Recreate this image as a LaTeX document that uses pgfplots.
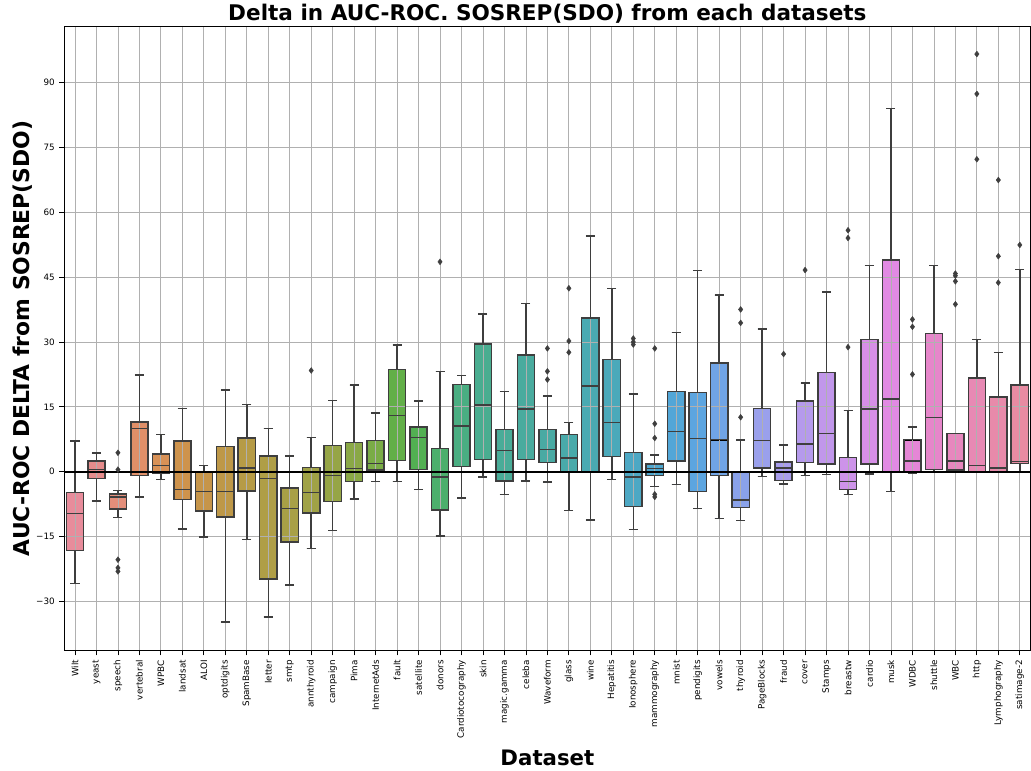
\documentclass[border=0pt]{standalone}
\usepackage{fontspec}
\setmainfont{DejaVu Sans}
\usepackage{pgfplots}
\usepackage{pgfplotstable}
\pgfplotsset{compat=1.18}
\usepgfplotslibrary{statistics}

\definecolor{edge}{RGB}{62,62,62}
\definecolor{gridc}{RGB}{176,176,176}
\definecolor{c0}{RGB}{232,140,155}
\definecolor{c1}{RGB}{230,140,140}
\definecolor{c2}{RGB}{228,142,122}
\definecolor{c3}{RGB}{224,143,104}
\definecolor{c4}{RGB}{216,145,86}
\definecolor{c5}{RGB}{206,147,76}
\definecolor{c6}{RGB}{198,149,74}
\definecolor{c7}{RGB}{190,152,72}
\definecolor{c8}{RGB}{182,155,70}
\definecolor{c9}{RGB}{175,158,70}
\definecolor{c10}{RGB}{168,160,70}
\definecolor{c11}{RGB}{160,162,70}
\definecolor{c12}{RGB}{150,165,70}
\definecolor{c13}{RGB}{138,168,70}
\definecolor{c14}{RGB}{122,172,70}
\definecolor{c15}{RGB}{98,175,72}
\definecolor{c16}{RGB}{82,176,82}
\definecolor{c17}{RGB}{76,175,108}
\definecolor{c18}{RGB}{74,174,130}
\definecolor{c19}{RGB}{73,173,144}
\definecolor{c20}{RGB}{73,172,152}
\definecolor{c21}{RGB}{73,171,158}
\definecolor{c22}{RGB}{73,170,163}
\definecolor{c23}{RGB}{73,170,170}
\definecolor{c24}{RGB}{74,170,178}
\definecolor{c25}{RGB}{75,169,186}
\definecolor{c26}{RGB}{77,168,196}
\definecolor{c27}{RGB}{79,167,206}
\definecolor{c28}{RGB}{82,166,215}
\definecolor{c29}{RGB}{92,165,224}
\definecolor{c30}{RGB}{112,164,230}
\definecolor{c31}{RGB}{138,162,234}
\definecolor{c32}{RGB}{154,160,236}
\definecolor{c33}{RGB}{168,157,236}
\definecolor{c34}{RGB}{181,154,236}
\definecolor{c35}{RGB}{193,151,235}
\definecolor{c36}{RGB}{205,147,233}
\definecolor{c37}{RGB}{215,143,231}
\definecolor{c38}{RGB}{225,138,227}
\definecolor{c39}{RGB}{229,134,214}
\definecolor{c40}{RGB}{230,134,202}
\definecolor{c41}{RGB}{231,135,190}
\definecolor{c42}{RGB}{232,137,180}
\definecolor{c43}{RGB}{232,138,170}
\definecolor{c44}{RGB}{232,139,162}

% lower whisker, lower quartile, median, upper quartile, upper whisker
\pgfplotstableread{
pos lw lq med uq uw
0 -25.8 -18.2 -9.6 -4.8 7.1
1 -6.7 -1.6 0.5 2.5 4.3
2 -10.5 -8.6 -5.8 -5.1 -4.3
3 -5.8 -0.85 10.0 11.5 22.4
4 -1.8 -0.3 1.4 4.1 8.6
5 -13.2 -6.4 -4.1 7.15 14.6
6 -15.1 -9.1 -4.5 -0.2 1.4
7 -34.7 -10.4 -4.5 5.8 18.9
8 -15.6 -4.4 0.85 7.8 15.6
9 -33.5 -24.8 -1.5 3.6 10.0
10 -26.2 -16.2 -8.5 -3.7 3.7
11 -17.7 -9.5 -4.8 1.0 7.9
12 -13.6 -6.8 -0.85 6.1 16.5
13 -6.3 -2.3 0.8 6.8 20.0
14 -2.3 0.4 1.9 7.2 13.6
15 -2.2 2.6 13.0 23.6 29.3
16 -4.1 0.5 7.9 10.4 16.4
17 -14.8 -8.8 -1.2 5.4 23.2
18 -6.0 1.2 10.6 20.2 22.3
19 -1.2 2.8 15.4 29.5 36.4
20 -5.3 -2.1 4.9 9.8 18.5
21 -2.1 2.8 14.5 27.0 38.9
22 -2.4 2.2 5.2 9.8 17.5
23 -8.9 -0.2 3.2 8.6 11.4
24 -11.1 -0.2 19.8 35.5 54.5
25 -1.8 3.5 11.4 26.0 42.4
26 -13.3 -8.0 -1.2 4.5 18.0
27 -3.4 -0.8 0.8 1.8 3.9
28 -2.9 2.5 9.3 18.5 32.2
29 -8.5 -4.6 7.7 18.3 46.5
30 -10.8 -0.8 7.4 25.1 40.8
31 -11.2 -8.3 -6.5 -0.2 7.3
32 -1.1 0.85 7.2 14.6 33.0
33 -2.8 -2.0 0.9 2.3 6.2
34 -0.9 2.2 6.4 16.4 20.5
35 -0.6 1.8 8.9 23.0 41.5
36 -5.3 -4.1 -2.2 3.3 14.2
37 -0.5 1.8 14.5 30.6 47.7
38 -4.6 0.0 16.8 48.9 83.9
39 -0.3 -0.1 2.5 7.4 10.3
40 -0.2 0.5 12.5 32.0 47.7
41 -0.2 0.4 2.5 8.9 8.9
42 -0.1 0.0 1.5 21.7 30.6
43 -0.2 0.0 0.9 17.3 27.5
44 -0.2 1.9 2.4 20.0 46.7
}\boxdata

\pgfplotstableread{
x y
2 4.4
2 0.5
2 -20.3
2 -22.2
2 -23.0
11 23.4
17 48.5
22 28.5
22 23.2
22 21.3
23 42.4
23 30.2
23 27.6
26 30.8
26 30.0
26 29.4
27 28.5
27 11.1
27 7.8
27 -5.2
27 -5.8
31 37.5
31 34.4
31 12.6
33 27.2
34 46.6
36 55.8
36 54.0
36 28.8
39 35.2
39 33.5
39 22.5
41 45.8
41 45.3
41 44.0
41 38.7
42 96.5
42 87.3
42 72.2
43 67.4
43 49.8
43 43.7
44 52.4
}\outliers

\begin{document}
\begin{tikzpicture}
\begin{axis}[
  set layers,
  width=726pt, height=469pt, scale only axis,
  xmin=-0.5, xmax=44.5, ymin=-41.3, ymax=102.9,
  xtick={0,...,44},
  xticklabels={Wilt,yeast,speech,vertebral,WPBC,landsat,ALOI,optdigits,SpamBase,letter,smtp,annthyroid,campaign,Pima,InternetAds,fault,satellite,donors,Cardiotocography,skin,magic.gamma,celeba,Waveform,glass,wine,Hepatitis,Ionosphere,mammography,mnist,pendigits,vowels,thyroid,PageBlocks,fraud,cover,Stamps,breastw,cardio,musk,WDBC,shuttle,WBC,http,Lymphography,satimage-2},
  ytick={-30,-15,0,15,30,45,60,75,90},
  yticklabels={−30,−15,0,15,30,45,60,75,90},
  tick label style={font=\fontsize{6.6}{7.5}\selectfont, text=black},
  x tick label style={rotate=90, anchor=east},
  tick align=outside, tick pos=left,
  major tick length=3.6pt,
  every tick/.style={black, line width=0.6pt},
  grid=major, grid style={gridc, line width=0.6pt},
  axis line style={black, line width=0.7pt},
  title={Delta in AUC-ROC. SOSREP(SDO) from each datasets},
  title style={font=\bfseries\fontsize{16.2}{19}\selectfont, yshift=-7.5pt},
  xlabel={Dataset},
  ylabel={AUC-ROC DELTA from SOSREP(SDO)},
  xlabel style={font=\bfseries\fontsize{16}{19}\selectfont, yshift=-2pt},
  ylabel style={font=\bfseries\fontsize{16.4}{19}\selectfont,
    at={(ticklabel cs:0.5,-3.8pt)}, name=yl},
  boxplot/draw direction=y,
  boxplot/box extend=0.8,
  boxplot/whisker extend=0.42,
]
\pgfplotsinvokeforeach{0,...,44}{
  \pgfplotstablegetelem{#1}{lw}\of\boxdata\let\LW\pgfplotsretval
  \pgfplotstablegetelem{#1}{lq}\of\boxdata\let\LQ\pgfplotsretval
  \pgfplotstablegetelem{#1}{med}\of\boxdata\let\MED\pgfplotsretval
  \pgfplotstablegetelem{#1}{uq}\of\boxdata\let\UQ\pgfplotsretval
  \pgfplotstablegetelem{#1}{uw}\of\boxdata\let\UW\pgfplotsretval
  % fill below the grid
  \edef\doplot{\noexpand\addplot[draw=none, fill=c#1, on layer=axis background,
    boxplot prepared={draw position=#1, lower whisker=\LW, lower quartile=\LQ,
      median=\MED, upper quartile=\UQ, upper whisker=\UW}] coordinates {};}
  \doplot
  % outline, median and whiskers above the grid
  \edef\doplot{\noexpand\addplot[draw=edge, line width=1.1pt,
    boxplot prepared={draw position=#1, lower whisker=\LW, lower quartile=\LQ,
      median=\MED, upper quartile=\UQ, upper whisker=\UW}] coordinates {};}
  \doplot
}
\addplot[only marks, mark=diamond*, mark size=2.2pt,
  mark options={fill=edge, draw=edge, line width=0.3pt}] table[x=x, y=y] {\outliers};
\addplot[black, line width=1.8pt] coordinates {(-0.5,0) (44.5,0)};
\end{axis}
\path ([xshift=-6pt]yl.north);
\end{tikzpicture}
\end{document}
